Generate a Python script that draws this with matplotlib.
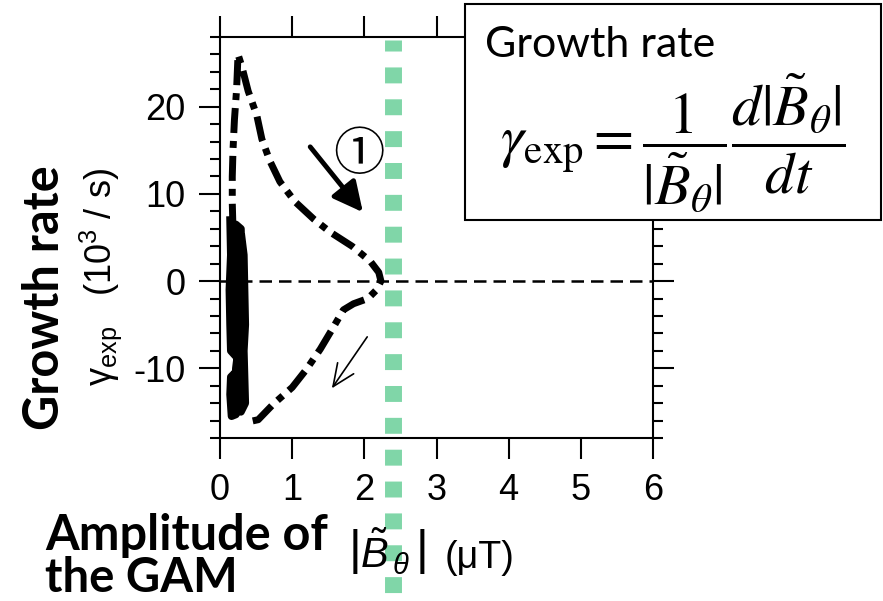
import matplotlib
matplotlib.use("Agg")
import matplotlib.pyplot as plt
from matplotlib.ticker import MultipleLocator, FixedLocator
from matplotlib.patches import Rectangle
import matplotlib.transforms as mtransforms

plt.rcParams['font.family'] = ['Liberation Sans', 'DejaVu Sans']
plt.rcParams['axes.unicode_minus'] = False
plt.rcParams['mathtext.fontset'] = 'custom'
plt.rcParams['mathtext.rm'] = 'Liberation Sans'
plt.rcParams['mathtext.it'] = 'Liberation Sans:italic'
plt.rcParams['mathtext.bf'] = 'Liberation Sans:bold'

# ---- data ----
# trajectory (dash-dot): rise, peak, decay to zero, then negative growth back
traj_x = [0.18, 0.17, 0.17, 0.18, 0.20, 0.23, 0.25, 0.30, 0.39, 0.51, 0.58, 0.69,
          0.83, 1.04, 1.30, 1.53, 1.83, 2.08, 2.20, 2.23, 2.17, 2.05, 1.85, 1.71,
          1.57, 1.39, 1.20, 1.00, 0.74, 0.53, 0.42]
traj_y = [6.0, 9.0, 12.0, 15.0, 18.5, 22.0, 26.0, 24.7, 21.8, 19.0, 16.3, 13.8,
          11.4, 9.1, 7.1, 5.6, 4.0, 2.3, 1.0, 0.0, -1.0, -2.0, -2.6, -3.3,
          -5.3, -7.8, -10.1, -12.2, -14.1, -15.9, -16.1]
# noisy low-amplitude phase (dense block), several up/down passes
noise_x = [0.14, 0.15, 0.13, 0.14, 0.15, 0.26, 0.27, 0.15, 0.14, 0.16,
           0.22, 0.21, 0.22, 0.25, 0.21, 0.22, 0.20, 0.22,
           0.29, 0.30, 0.28, 0.29, 0.30, 0.28, 0.30, 0.29,
           0.35, 0.34, 0.33, 0.35, 0.34, 0.33, 0.30]
noise_y = [7.0, 3.0, -1.0, -5.0, -8.0, -9.0, -10.0, -11.0, -13.0, -15.5,
           -15.3, -12.0, -10.0, -8.0, -5.0, -1.0, 3.0, 6.5,
           6.0, 2.0, -2.0, -6.0, -8.5, -10.0, -12.0, -15.0,
           -14.0, -11.0, -8.0, -5.0, -1.0, 3.0, 5.0]
x_ticks = [0, 1, 2, 3, 4, 5, 6]
y_ticks = [-10, 0, 10, 20]
gam_limit_x = 2.4

W, H = 883, 601
fig = plt.figure(figsize=(W / 100, H / 100), dpi=100)
ax = fig.add_axes([220 / W, 163 / H, 433 / W, 401 / H])
ax.set_xlim(0, 6)
ax.set_ylim(-18, 28)

for s in ax.spines.values():
    s.set_linewidth(1.5)

ax.xaxis.set_major_locator(FixedLocator(x_ticks))
ax.yaxis.set_major_locator(FixedLocator(y_ticks))
ax.yaxis.set_minor_locator(MultipleLocator(2))
ax.tick_params(which='major', direction='out', length=15, width=1.5,
               top=True, right=True, labelsize=26, pad=10)
ax.tick_params(which='minor', direction='out', length=7.5, width=1.5,
               left=True, right=True, top=False, bottom=False)

# zero line
ax.axhline(0, color='black', lw=1.8, linestyle=(0, (5, 2.8)), zorder=2)

# noise block
ax.plot(noise_x, noise_y, color='black', lw=5.5, solid_joinstyle='round', zorder=3)
# trajectory
ax.plot(traj_x, traj_y, color='black', lw=5, linestyle=(0, (3.6, 1.15, 1.0, 1.15)),
        dash_capstyle='butt', zorder=3)

# green vertical marker line (extends beyond axes)
trans = mtransforms.blended_transform_factory(ax.transData, ax.transAxes)
ax.plot([gam_limit_x, gam_limit_x], [0.9925, -0.41], transform=trans,
        color='#80d6a8', lw=12.2, linestyle=(0.29, (0.94, 0.94)),
        dash_capstyle='butt', clip_on=False, zorder=4)

# arrows
ax.annotate('', xy=(1.98, 7.9), xytext=(1.25, 15.4),
            arrowprops=dict(arrowstyle='-|>,head_length=0.9,head_width=0.45',
                            lw=3.5, color='black', shrinkA=0, shrinkB=0,
                            mutation_scale=20), zorder=5)
ax.annotate('', xy=(1.55, -12.3), xytext=(2.04, -6.4),
            arrowprops=dict(arrowstyle='->,head_length=0.8,head_width=0.35',
                            lw=1.2, color='black', shrinkA=0, shrinkB=0,
                            mutation_scale=20), zorder=5)
ax.text(1.92, 14.4, '①', fontsize=37, ha='center', va='center',
        family=['Noto Sans CJK JP', 'DejaVu Sans'], zorder=5)

# y labels
fig.text(45 / W, 1 - 298 / H, 'Growth rate', rotation=90, ha='center', va='center',
         fontfamily='Lato', fontweight='bold', fontsize=35)
fig.text(101 / W, 1 - 277 / H, 'γ$_{\\mathrm{exp}}$   (10$^{3}$ / s)', rotation=90,
         ha='center', va='center', fontsize=26)

# x labels
fig.text(45 / W, 1 - 550 / H, 'Amplitude of', ha='left', va='baseline',
         fontfamily='Lato', fontweight='bold', fontsize=35)
fig.text(45 / W, 1 - 592 / H, 'the GAM', ha='left', va='baseline',
         fontfamily='Lato', fontweight='bold', fontsize=34)
fig.text(348 / W, 1 - 568 / H, r'$\left|\tilde{B}_{\,\theta}\,\right|$', ha='left',
         va='baseline', fontsize=30)
fig.text(445 / W, 1 - 568 / H, '(μT)', ha='left', va='baseline', fontsize=27)

# formula box
box = Rectangle((465 / W, 1 - 220 / H), 416 / W, 216 / H, transform=fig.transFigure,
                facecolor='white', edgecolor='black', lw=1.5, zorder=10)
fig.add_artist(box)
fig.text(485 / W, 1 - 57 / H, 'Growth rate', ha='left', va='baseline',
         fontfamily='Lato', fontsize=31, zorder=11)
fig.text(500 / W, 1 - 143 / H,
         r'$\gamma_{\mathrm{exp}} = \dfrac{1}{|\tilde{B}_{\theta}|}\dfrac{d|\tilde{B}_{\theta}|}{dt}$',
         ha='left', va='center', fontsize=42, math_fontfamily='stix', zorder=11)

fig.savefig('out.png', dpi=100)
